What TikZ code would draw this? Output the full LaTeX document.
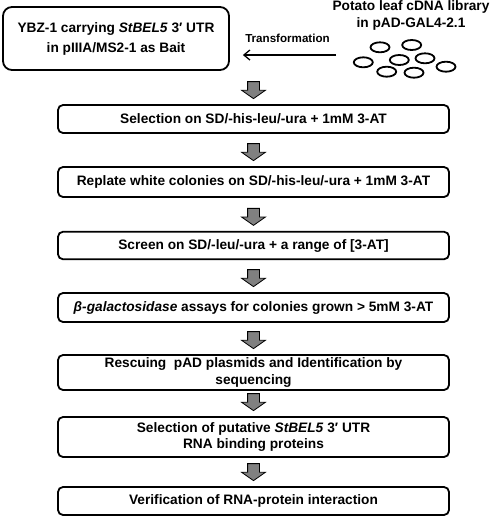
\documentclass[tikz,border=0pt]{standalone}
\usepackage{fontspec}
\setmainfont{Liberation Sans}
\usetikzlibrary{shapes.arrows,arrows.meta,calc}
\tikzset{
  stepbox/.style={
    draw,
    line width=1.8pt,
    rounded corners=5pt,
    minimum width=391pt,
    inner sep=0pt,
    align=center,
    font=\fontsize{13.7}{16.5}\selectfont\bfseries
  },
  baitbox/.style={
    stepbox,
    rounded corners=9pt,
    minimum width=226pt,
    minimum height=63pt,
    font=\fontsize{13.7}{20}\selectfont\bfseries
  },
  blockarrow/.style={
    single arrow,
    draw,
    fill=gray,
    line width=0.8pt,
    shape border rotate=270,
    inner sep=5.5pt,
    single arrow head extend=6pt,
    single arrow tip angle=110,
    minimum height=17pt
  },
  plasmid/.style={
    line width=1.8pt
  }
}
\begin{document}
\begin{tikzpicture}[x=1pt,y=-1pt]
    \useasboundingbox (0,0) rectangle (490,517);
    % bait and library
    \node[baitbox] (b1) at (116,38.5) {YBZ-1 carrying \textit{StBEL5} 3′ UTR\\in pIIIA/MS2-1 as Bait};
    \node[align=center, font=\fontsize{13.7}{17}\selectfont\bfseries] (lib) at (411,15.5) {Potato leaf cDNA library\\in pAD-GAL4-2.1};
    \foreach \x/\y in {380/47.3, 411.7/45, 363.3/62.3, 399.3/60, 425/58.3, 386.7/71.7, 414/72.7, 446/66.7}{
            \draw[plasmid] (\x,\y) ellipse (9.5 and 5);
        }
    \coordinate (trstart) at (336,55);
    \coordinate (trend) at ([shift={(13,16.5)}]b1.east);
    \draw[-{Straight Barb[length=6pt,width=10pt]}, line width=1.3pt] (trstart) -- (trend);
    \node[font=\fontsize{11.6}{14}\selectfont\bfseries] (trlabel) at (287.5,38.5) {Transformation};
    % screening steps
    \node[stepbox, minimum height=28pt] (b2) at (253.5,119) {Selection on SD/-his-leu/-ura + 1mM 3-AT};
    \node[stepbox, minimum height=30pt] (b3) at (253.5,182) {Replate white colonies on SD/-his-leu/-ura + 1mM 3-AT};
    \node[stepbox, minimum height=27.5pt] (b4) at (253.5,245.5) {Screen on SD/-leu/-ura + a range of [3-AT]};
    \node[stepbox, minimum height=29pt] (b5) at (253.5,307.5) {\textit{β-galactosidase} assays for colonies grown > 5mM 3-AT};
    \node[stepbox, minimum height=35pt] (b6) at (253.5,372.5) {Rescuing\ \ pAD plasmids and Identification by\\sequencing};
    \node[stepbox, minimum height=40pt] (b7) at (253.5,437) {Selection of putative \textit{StBEL5} 3′ UTR\\RNA binding proteins};
    \node[stepbox, minimum height=28pt] (b8) at (253.5,501) {Verification of RNA-protein interaction};
    \foreach \n in {2,...,8}{
            \node[blockarrow, anchor=tip] (a\n) at ($(b\n.north)+(0,-5)$) {};
        }
\end{tikzpicture}
\end{document}
